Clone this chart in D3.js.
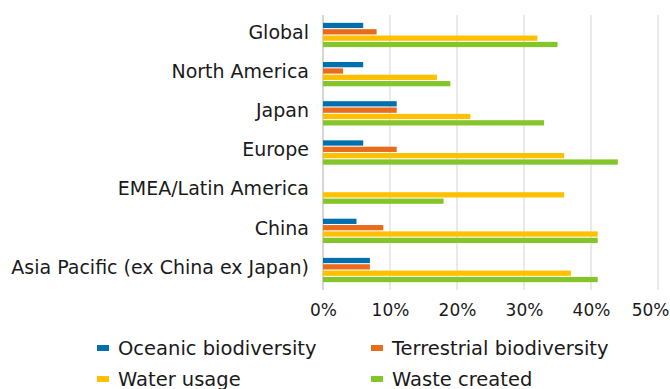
<!DOCTYPE html>
<html>
<head>
<meta charset="utf-8">
<script src="https://cdn.jsdelivr.net/npm/d3@7"></script>
<style>
  html, body { margin: 0; padding: 0; background: #fff; }
  svg { display: block; font-family: "DejaVu Sans", Verdana, sans-serif; }
</style>
</head>
<body>
<svg id="chart" width="670" height="389"></svg>
<script>
// Regions shown top to bottom
const regions = ["Global", "North America", "Japan", "Europe", "EMEA/Latin America", "China", "Asia Pacific (ex China ex Japan)"];

// Share of companies (%) per impact type
const oceanic     = [6, 6, 11, 6, 0, 5, 7];
const terrestrial = [8, 3, 11, 11, 0, 9, 7];
const water       = [32, 17, 22, 36, 36, 41, 37];
const waste       = [35, 19, 33, 44, 18, 41, 41];

const seriesNames  = ["Oceanic biodiversity", "Terrestrial biodiversity", "Water usage", "Waste created"];
const seriesColors = ["#0070ad", "#e96b1e", "#ffc000", "#84c52a"];
const xTicks = [0, 10, 20, 30, 40, 50];

const seriesValues = [oceanic, terrestrial, water, waste];

const svg = d3.select("#chart");
const margin = { top: 15, right: 12, bottom: 99, left: 323 };
const height = 389 - margin.top - margin.bottom;

const g = svg.append("g").attr("transform", `translate(${margin.left},${margin.top})`);

const x = d3.scaleLinear().domain([0, 50]).range([0, 335]);
const y = d3.scaleBand().domain(regions).range([0, height]).paddingInner(0.38).paddingOuter(0.2);
const ySub = d3.scaleBand().domain(seriesNames).range([0, y.bandwidth()]).paddingInner(0.17);

// vertical gridlines
g.append("g")
  .selectAll("line")
  .data(xTicks)
  .join("line")
  .attr("x1", d => x(d)).attr("x2", d => x(d))
  .attr("y1", 0).attr("y2", height)
  .attr("stroke", d => d === 0 ? "#c8c8c8" : "#e3e3e3")
  .attr("stroke-width", 1.5);

// bars
const groups = g.append("g")
  .selectAll("g")
  .data(regions)
  .join("g")
  .attr("transform", d => `translate(0,${y(d)})`);

groups.selectAll("rect")
  .data((r, i) => seriesNames.map((s, k) => ({ s, k, v: seriesValues[k][i] })))
  .join("rect")
  .attr("x", x(0))
  .attr("y", d => ySub(d.s))
  .attr("width", d => x(d.v) - x(0))
  .attr("height", ySub.bandwidth())
  .attr("fill", d => seriesColors[d.k]);

// category labels
const yAxis = g.append("g")
  .call(d3.axisLeft(y).tickSize(0).tickPadding(14));
yAxis.select(".domain").remove();
yAxis.selectAll("text")
  .attr("font-size", 19)
  .attr("font-family", "'DejaVu Sans', Verdana, sans-serif")
  .attr("fill", "#1a1a1a")
  .attr("dy", "0.2em");

// x tick labels
const xAxis = g.append("g")
  .attr("transform", `translate(0,${height})`)
  .call(d3.axisBottom(x).tickValues(xTicks).tickFormat(d => d + "%").tickSize(0).tickPadding(14));
xAxis.select(".domain").remove();
xAxis.selectAll("text")
  .attr("font-size", 17)
  .attr("font-family", "'DejaVu Sans', Verdana, sans-serif")
  .attr("fill", "#1a1a1a");
// keep the last tick label inside the frame
xAxis.selectAll(".tick").filter(d => d === 50).select("text")
  .attr("text-anchor", "end")
  .attr("x", 11);

// legend, two columns
const legend = svg.append("g");
const legendItems = legend.selectAll("g")
  .data(seriesNames)
  .join("g")
  .attr("transform", (d, i) => `translate(${i % 2 === 0 ? 97 : 371},${348 + Math.floor(i / 2) * 31})`);

legendItems.append("rect")
  .attr("x", 0).attr("y", -3)
  .attr("width", 12).attr("height", 6)
  .attr("fill", (d, i) => seriesColors[i]);

legendItems.append("text")
  .attr("x", 21).attr("y", 0)
  .attr("dy", "0.35em")
  .attr("font-size", 19.5)
  .attr("fill", "#1a1a1a")
  .text(d => d);
</script>
</body>
</html>
